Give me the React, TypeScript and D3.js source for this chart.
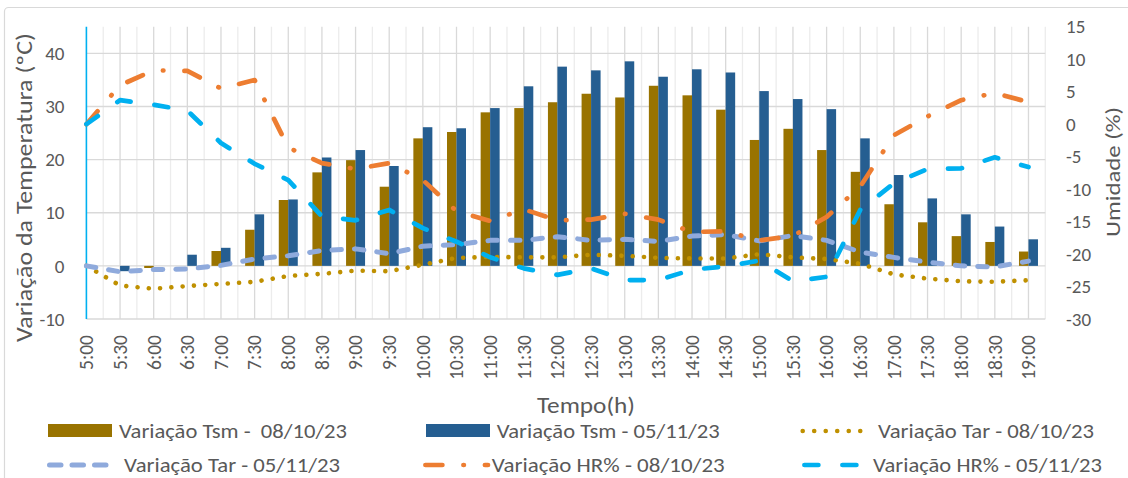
import React from "react";
import * as d3 from "d3";

const categories = ["5:00","5:30","6:00","6:30","7:00","7:30","8:00","8:30","9:00","9:30","10:00","10:30","11:00","11:30","12:00","12:30","13:00","13:30","14:00","14:30","15:00","15:30","16:00","16:30","17:00","17:30","18:00","18:30","19:00"];

const tsm0810 = [0, 0, -0.4, 0, 2.8, 6.8, 12.4, 17.6, 19.9, 14.9, 24.0, 25.2, 28.9, 29.7, 30.8, 32.4, 31.7, 33.9, 32.1, 29.4, 23.7, 25.8, 21.8, 17.7, 11.6, 8.2, 5.6, 4.5, 2.7];
const tsm0511 = [0, -1.0, 0, 2.1, 3.4, 9.7, 12.5, 20.4, 21.8, 18.8, 26.1, 25.9, 29.7, 33.8, 37.5, 36.8, 38.5, 35.6, 37.0, 36.4, 32.9, 31.4, 29.5, 24.0, 17.1, 12.7, 9.7, 7.4, 5.0];
const tar0810 = [0, -3.7, -4.3, -3.8, -3.4, -3.0, -1.9, -1.5, -0.9, -1.0, 0.2, 1.5, 1.7, 1.6, 1.6, 2.1, 1.9, 1.5, 1.4, 1.4, 2.2, 1.6, 1.3, 0.4, -1.6, -2.4, -2.9, -3.0, -2.7];
const tar0511 = [0, -1.1, -0.7, -0.6, 0.1, 1.3, 1.9, 2.9, 3.2, 2.3, 3.7, 4.0, 4.8, 4.8, 5.5, 4.8, 5.0, 4.6, 5.6, 5.9, 4.7, 5.7, 4.8, 2.6, 1.6, 0.7, 0.0, -0.2, 0.9];
const hr0810 = [0, 6.0, 8.3, 8.2, 5.5, 6.8, -3.6, -6.0, -6.9, -6.0, -8.6, -13.4, -14.9, -13.1, -14.8, -14.7, -13.8, -14.7, -16.6, -16.5, -17.9, -17.2, -14.3, -9.6, -1.7, 1.2, 3.7, 4.8, 3.4];
const hr0511 = [0, 3.7, 3.0, 2.1, -2.9, -6.1, -8.6, -14.2, -14.8, -13.2, -16.0, -18.1, -20.5, -22.2, -23.2, -22.2, -24.0, -24.0, -22.4, -21.9, -21.0, -24.2, -23.5, -13.2, -9.1, -6.9, -6.8, -5.1, -6.6];

const leftTicks = [-10, 0, 10, 20, 30, 40];
const rightTicks = [-30, -25, -20, -15, -10, -5, 0, 5, 10, 15];

const seriesNames = [
  "Variação Tsm -  08/10/23",
  "Variação Tsm - 05/11/23",
  "Variação Tar - 08/10/23",
  "Variação Tar - 05/11/23",
  "Variação HR% - 08/10/23",
  "Variação HR% - 05/11/23",
];

const FONT = "Carlito, Calibri, Lato, sans-serif";
const TXT = "#595959";
const C_TSM08 = "#997300";
const C_TSM05 = "#255e91";
const C_TAR08 = "#bf9000";
const C_TAR05 = "#8faadc";
const C_HR08 = "#ed7d31";
const C_HR05 = "#00b0f0";

export default function App() {
  const W = 1128, H = 478;
  const L = 86.4, R = 1045.3, T = 26.8, B = 319;
  const step = (R - L) / 28.5;
  const x = d3.scaleBand<string>().domain(categories).range([L - step / 2, R]).padding(0);
  const bw = x.bandwidth();
  const cx = (c: string) => (x(c) as number) + bw / 2;
  const yL = d3.scaleLinear().domain([-10, 45]).range([B, T]);
  const yR = d3.scaleLinear().domain([-30, 15]).range([B, T]);
  const barW = 9.5;

  const lineL = d3.line<number>().x((_, i) => cx(categories[i])).y((d) => yL(d));
  const lineR = d3.line<number>().x((_, i) => cx(categories[i])).y((d) => yR(d));

  return (
    <svg width={W} height={H} style={{ position: "absolute", left: 0, top: 0, display: "block" }} fontFamily={FONT}>
      <rect x={0} y={0} width={W} height={H} fill="#fff" />
      <rect x={4.5} y={7.5} width={1140} height={490} rx={4} fill="#fff" stroke="#d9d9d9" strokeWidth={1.2} />

      {/* vertical gridlines */}
      {categories.map((c, i) => (
        <line key={"vb" + i} x1={(x(c) as number) + bw} x2={(x(c) as number) + bw} y1={T} y2={B} stroke="#ececec" strokeWidth={1.3} />
      ))}
      {categories.map((c, i) =>
        i === 0 ? null : (
          <line key={"vc" + i} x1={cx(c)} x2={cx(c)} y1={T} y2={B} stroke="#d9d9d9" strokeWidth={1.3} />
        )
      )}
      {/* horizontal gridlines */}
      {leftTicks.map((t) => (
        <line key={"h" + t} x1={L} x2={R} y1={yL(t)} y2={yL(t)} stroke="#d9d9d9" strokeWidth={1.3} />
      ))}

      {/* bars */}
      {categories.map((c, i) => {
        const v1 = tsm0810[i], v2 = tsm0511[i];
        return (
          <g key={"b" + i}>
            <rect x={cx(c) - barW} y={yL(Math.max(v1, 0))} width={barW} height={Math.abs(yL(v1) - yL(0))} fill={C_TSM08} />
            <rect x={cx(c)} y={yL(Math.max(v2, 0))} width={barW} height={Math.abs(yL(v2) - yL(0))} fill={C_TSM05} />
          </g>
        );
      })}

      {/* left axis line */}
      <line x1={L} x2={L} y1={T} y2={B} stroke={C_HR05} strokeWidth={1.6} />

      {/* lines */}
      <path d={lineL(tar0810) || ""} fill="none" stroke={C_TAR08} strokeWidth={4.6} strokeLinecap="round" strokeDasharray="0.01 11.3" />
      <path d={lineL(tar0511) || ""} fill="none" stroke={C_TAR05} strokeWidth={5} strokeLinecap="round" strokeLinejoin="round" strokeDasharray="9.5 13" />
      <path d={lineR(hr0810) || ""} fill="none" stroke={C_HR08} strokeWidth={4.7} strokeLinecap="round" strokeLinejoin="round" strokeDasharray="17 21 0.5 21" />
      <path d={lineR(hr0511) || ""} fill="none" stroke={C_HR05} strokeWidth={4.7} strokeLinecap="round" strokeLinejoin="round" strokeDasharray="14 24" />

      {/* left ticks */}
      {leftTicks.map((t) => (
        <text key={"lt" + t} x={64.5} y={yL(t)} dy="0.35em" textAnchor="end" fontSize={19} fill={TXT}>{t}</text>
      ))}
      {/* right ticks */}
      {rightTicks.map((t) => (
        <text key={"rt" + t} x={1066} y={yR(t)} dy="0.35em" textAnchor="start" fontSize={19} fill={TXT}>{t}</text>
      ))}
      {/* x ticks */}
      {categories.map((c) => (
        <text key={"xt" + c} transform={`translate(${cx(c)},335) rotate(-90)`} dy="0.35em" textAnchor="end" fontSize={19.5} fill={TXT}>{c}</text>
      ))}

      {/* axis titles */}
      <text transform="translate(24,187.5) rotate(-90)" dy="0.35em" textAnchor="middle" fontSize={22} fill={TXT} textLength={309} lengthAdjust="spacingAndGlyphs">Variação  da Temperatura (ºC)</text>
      <text transform="translate(1113,172) rotate(-90)" dy="0.35em" textAnchor="middle" fontSize={21} fill={TXT} textLength={130} lengthAdjust="spacingAndGlyphs">Umidade (%)</text>
      <text x={586} y={413} textAnchor="middle" fontSize={22} fill={TXT} textLength={98} lengthAdjust="spacingAndGlyphs">Tempo(h)</text>

      {/* legend */}
      <rect x={48} y={424} width={64} height={13} fill={C_TSM08} />
      <text x={119} y={437.5} fontSize={19.5} fill={TXT} textLength={228} lengthAdjust="spacingAndGlyphs" style={{ whiteSpace: "pre" }}>{seriesNames[0]}</text>
      <rect x={426} y={424} width={64} height={13} fill={C_TSM05} />
      <text x={496.7} y={437.5} fontSize={19.5} fill={TXT} textLength={223} lengthAdjust="spacingAndGlyphs">{seriesNames[1]}</text>
      <line x1={802.7} x2={861} y1={431} y2={431} stroke={C_TAR08} strokeWidth={4.6} strokeLinecap="round" strokeDasharray="0.01 11.5" />
      <text x={878} y={437.5} fontSize={19.5} fill={TXT} textLength={216} lengthAdjust="spacingAndGlyphs">{seriesNames[2]}</text>

      <line x1={49.5} x2={106} y1={465} y2={465} stroke={C_TAR05} strokeWidth={5} strokeLinecap="round" strokeDasharray="11.5 11" />
      <text x={124} y={472} fontSize={19.5} fill={TXT} textLength={216} lengthAdjust="spacingAndGlyphs">{seriesNames[3]}</text>
      <line x1={425.4} x2={488} y1={465} y2={465} stroke={C_HR08} strokeWidth={4.7} strokeLinecap="round" strokeDasharray="17 21 0.5 21" />
      <text x={491.7} y={472} fontSize={19.5} fill={TXT} textLength={233} lengthAdjust="spacingAndGlyphs">{seriesNames[4]}</text>
      <line x1={804.4} x2={857} y1={465} y2={465} stroke={C_HR05} strokeWidth={4.7} strokeLinecap="round" strokeDasharray="14 24" />
      <text x={873} y={472} fontSize={19.5} fill={TXT} textLength={229} lengthAdjust="spacingAndGlyphs">{seriesNames[5]}</text>
    </svg>
  );
}
